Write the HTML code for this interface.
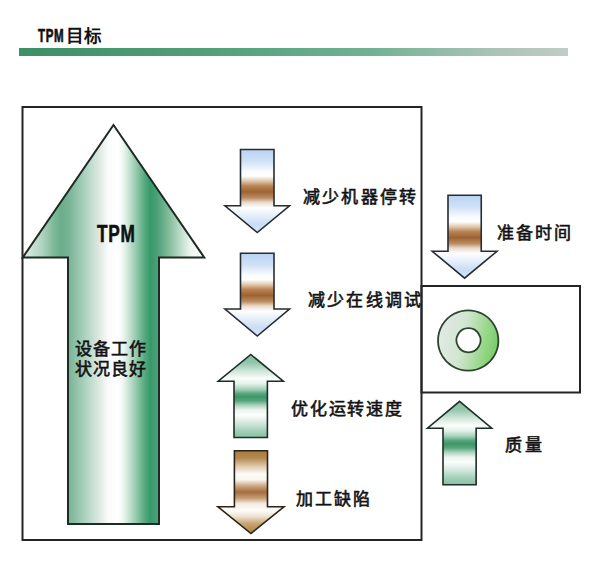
<!DOCTYPE html>
<html lang="zh-CN">
<head>
<meta charset="utf-8">
<style>
html,body{margin:0;padding:0;background:#fff;}
body{width:600px;height:574px;position:relative;overflow:hidden;font-family:"Liberation Sans",sans-serif;color:#111;}
svg{position:absolute;left:0;top:0;}
.t{position:absolute;white-space:nowrap;font-weight:500;-webkit-text-stroke:0.6px #151515;font-size:17px;line-height:1;letter-spacing:2px;}
.b{font-weight:bold;-webkit-text-stroke:0;}
.lat{display:inline-block;transform-origin:0 50%;}
</style>
</head>
<body>
<svg width="600" height="574" viewBox="0 0 600 574">
<defs>
<linearGradient id="hdr" gradientUnits="userSpaceOnUse" x1="19" y1="0" x2="568" y2="0">
<stop offset="0" stop-color="#3d8f66"/>
<stop offset="0.35" stop-color="#52a07a"/>
<stop offset="0.65" stop-color="#72b294"/>
<stop offset="0.85" stop-color="#a8c2b5"/>
<stop offset="1" stop-color="#c0ccc6"/>
</linearGradient>
<linearGradient id="big" gradientUnits="userSpaceOnUse" x1="23" y1="0" x2="205" y2="0">
<stop offset="0" stop-color="#e2efe8"/>
<stop offset="0.1" stop-color="#b2d5c3"/>
<stop offset="0.17" stop-color="#7cb998"/>
<stop offset="0.21" stop-color="#6aae8b"/>
<stop offset="0.25" stop-color="#78b395"/>
<stop offset="0.36" stop-color="#b8d8c8"/>
<stop offset="0.42" stop-color="#dfe9e4"/>
<stop offset="0.47" stop-color="#fafcfb"/>
<stop offset="0.52" stop-color="#ffffff"/>
<stop offset="0.55" stop-color="#eef7f2"/>
<stop offset="0.61" stop-color="#a4d1b7"/>
<stop offset="0.665" stop-color="#5aab82"/>
<stop offset="0.7" stop-color="#35996a"/>
<stop offset="0.74" stop-color="#4fa079"/>
<stop offset="0.8" stop-color="#80bc9a"/>
<stop offset="0.92" stop-color="#eef6f1"/>
<stop offset="1" stop-color="#ffffff"/>
</linearGradient>
<linearGradient id="dnBlue" x1="0" y1="0" x2="0" y2="1">
<stop offset="0" stop-color="#b8d4f2"/>
<stop offset="0.14" stop-color="#cfe1f5"/>
<stop offset="0.27" stop-color="#fbfcfe"/>
<stop offset="0.32" stop-color="#ffffff"/>
<stop offset="0.38" stop-color="#e0c6ac"/>
<stop offset="0.44" stop-color="#b98352"/>
<stop offset="0.51" stop-color="#9d6333"/>
<stop offset="0.58" stop-color="#b98a5e"/>
<stop offset="0.64" stop-color="#eadcce"/>
<stop offset="0.7" stop-color="#fefefe"/>
<stop offset="0.8" stop-color="#e4eef9"/>
<stop offset="0.9" stop-color="#c9ddf4"/>
<stop offset="1" stop-color="#d5e5f7"/>
</linearGradient>
<linearGradient id="dnBrown" x1="0" y1="0" x2="0" y2="1">
<stop offset="0" stop-color="#a97a3a"/>
<stop offset="0.09" stop-color="#b48a52"/>
<stop offset="0.18" stop-color="#dcc5a6"/>
<stop offset="0.28" stop-color="#fdfbf8"/>
<stop offset="0.35" stop-color="#faf5ef"/>
<stop offset="0.43" stop-color="#c9a27c"/>
<stop offset="0.5" stop-color="#a56e3e"/>
<stop offset="0.57" stop-color="#c49a72"/>
<stop offset="0.64" stop-color="#f4ebe2"/>
<stop offset="0.72" stop-color="#fefdfb"/>
<stop offset="0.79" stop-color="#efe4d4"/>
<stop offset="0.88" stop-color="#c8a472"/>
<stop offset="1" stop-color="#a8803e"/>
</linearGradient>
<linearGradient id="upGreen" x1="0" y1="0" x2="0" y2="1">
<stop offset="0" stop-color="#84bfa0"/>
<stop offset="0.1" stop-color="#92c5aa"/>
<stop offset="0.2" stop-color="#cfe5d9"/>
<stop offset="0.29" stop-color="#fbfdfc"/>
<stop offset="0.35" stop-color="#e6f2ec"/>
<stop offset="0.42" stop-color="#a4d0b8"/>
<stop offset="0.47" stop-color="#5aa680"/>
<stop offset="0.51" stop-color="#3a9764"/>
<stop offset="0.56" stop-color="#5aa680"/>
<stop offset="0.61" stop-color="#a8d2bc"/>
<stop offset="0.67" stop-color="#ecf5f0"/>
<stop offset="0.73" stop-color="#fdfefd"/>
<stop offset="0.83" stop-color="#d2e7dc"/>
<stop offset="0.92" stop-color="#a2cfb8"/>
<stop offset="1" stop-color="#86c2a2"/>
</linearGradient>
<linearGradient id="donut" x1="0" y1="0.4" x2="1" y2="0.6">
<stop offset="0" stop-color="#e2e9e6"/>
<stop offset="0.4" stop-color="#d2e6d2"/>
<stop offset="0.75" stop-color="#9ad88c"/>
<stop offset="1" stop-color="#76cb66"/>
</linearGradient>
</defs>
<!-- header bar -->
<rect x="19" y="48" width="549" height="8" fill="url(#hdr)"/>
<!-- main box -->
<rect x="22.5" y="107" width="399" height="433" fill="none" stroke="#242424" stroke-width="2"/>
<!-- right box -->
<rect x="421.5" y="286" width="158.5" height="106.5" fill="none" stroke="#242424" stroke-width="2"/>
<!-- big arrow -->
<path d="M113.5,125 L204.2,257.4 H159 V524 H68 V257.4 H22.8 Z" fill="url(#big)" stroke="#1e2a22" stroke-width="2"/>
<!-- small arrows -->
<path d="M240.5,149.5 H274 V205.75 H289.5 L257.25,232.5 L225,205.75 H240.5 Z" fill="url(#dnBlue)" stroke="#262c34" stroke-width="1.6"/>
<path d="M240.5,253.2 H274 V309 H289.5 L257.25,336 L225,309 H240.5 Z" fill="url(#dnBlue)" stroke="#262c34" stroke-width="1.6"/>
<path d="M250.8,354.5 L283.3,381.25 H267.4 V437.5 H234 V381.25 H218.25 Z" fill="url(#upGreen)" stroke="#1e2e26" stroke-width="1.6"/>
<path d="M234.4,450.8 H267.5 V506.75 H284 L250.95,533.5 L217.9,506.75 H234.4 Z" fill="url(#dnBrown)" stroke="#2c2418" stroke-width="1.6"/>
<path d="M448,195.2 H481.25 V251.25 H497 L464.6,278.2 L432.2,251.25 H448 Z" fill="url(#dnBlue)" stroke="#262c34" stroke-width="1.6"/>
<path d="M459.6,401.3 L491.7,428.25 H476.15 V484.7 H443 V428.25 H427.5 Z" fill="url(#upGreen)" stroke="#1e2e26" stroke-width="1.6"/>
<!-- donut -->
<path d="M468.2,310.3 A30.2,30.2 0 1,0 468.21,310.3 Z M468.5,328.2 A12.05,12.05 0 1,1 468.49,328.2 Z" fill="url(#donut)" fill-rule="evenodd" stroke="#2e4430" stroke-width="1.8"/>
</svg>

<div class="t b" style="left:38px;top:27px;font-size:18px;letter-spacing:1px;"><span class="lat" style="transform:scaleX(0.64);-webkit-text-stroke:0.7px #111">TPM</span><span style="margin-left:-13px;position:relative;top:0px;font-size:17.5px;letter-spacing:0.5px">目标</span></div>
<div class="t b" style="left:97px;top:223px;font-size:23px;letter-spacing:1px;"><span class="lat" style="transform:scaleX(0.75);-webkit-text-stroke:0.6px #111">TPM</span></div>
<div class="t" style="left:75px;top:341px;letter-spacing:1.1px;">设备工作</div>
<div class="t" style="left:75px;top:360.5px;letter-spacing:1.1px;">状况良好</div>
<div class="t" style="left:303px;top:188.5px;letter-spacing:2.2px;">减少机器停转</div>
<div class="t" style="left:308px;top:291.5px;letter-spacing:2.2px;">减少在线调试</div>
<div class="t" style="left:291px;top:400.5px;letter-spacing:1.8px;">优化运转速度</div>
<div class="t" style="left:296px;top:490.5px;">加工缺陷</div>
<div class="t" style="left:497px;top:224.5px;">准备时间</div>
<div class="t" style="left:505px;top:436.5px;letter-spacing:3px;">质量</div>
</body>
</html>
